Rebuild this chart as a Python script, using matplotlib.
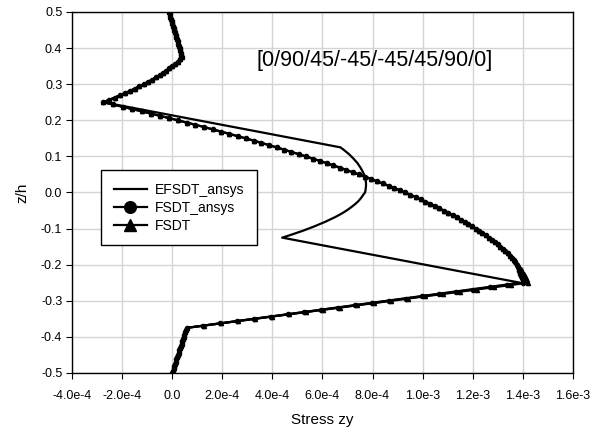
import matplotlib
matplotlib.use("Agg")
import matplotlib.pyplot as plt

plt.rcParams['font.family'] = ['Liberation Sans', 'DejaVu Sans']

# z/h sample positions (bottom to top), 20 samples per ply
z = [-0.5, -0.49375, -0.4875, -0.48125, -0.475, -0.46875, -0.4625, -0.45625, -0.45, -0.44375,
     -0.4375, -0.43125, -0.425, -0.41875, -0.4125, -0.40625, -0.4, -0.39375, -0.3875, -0.38125,
     -0.375, -0.36875, -0.3625, -0.35625, -0.35, -0.34375, -0.3375, -0.33125, -0.325, -0.31875,
     -0.3125, -0.30625, -0.3, -0.29375, -0.2875, -0.28125, -0.275, -0.26875, -0.2625, -0.25625,
     -0.25, -0.24375, -0.2375, -0.23125, -0.225, -0.21875, -0.2125, -0.20625, -0.2, -0.19375,
     -0.1875, -0.18125, -0.175, -0.16875, -0.1625, -0.15625, -0.15, -0.14375, -0.1375, -0.13125,
     -0.125, -0.11875, -0.1125, -0.10625, -0.1, -0.09375, -0.0875, -0.08125, -0.075, -0.06875,
     -0.0625, -0.05625, -0.05, -0.04375, -0.0375, -0.03125, -0.025, -0.01875, -0.0125, -0.00625,
     0.0, 0.00625, 0.0125, 0.01875, 0.025, 0.03125, 0.0375, 0.04375, 0.05, 0.05625,
     0.0625, 0.06875, 0.075, 0.08125, 0.0875, 0.09375, 0.1, 0.10625, 0.1125, 0.11875,
     0.125, 0.13125, 0.1375, 0.14375, 0.15, 0.15625, 0.1625, 0.16875, 0.175, 0.18125,
     0.1875, 0.19375, 0.2, 0.20625, 0.2125, 0.21875, 0.225, 0.23125, 0.2375, 0.24375,
     0.25, 0.25625, 0.2625, 0.26875, 0.275, 0.28125, 0.2875, 0.29375, 0.3, 0.30625,
     0.3125, 0.31875, 0.325, 0.33125, 0.3375, 0.34375, 0.35, 0.35625, 0.3625, 0.36875,
     0.375, 0.38125, 0.3875, 0.39375, 0.4, 0.40625, 0.4125, 0.41875, 0.425, 0.43125,
     0.4375, 0.44375, 0.45, 0.45625, 0.4625, 0.46875, 0.475, 0.48125, 0.4875, 0.49375, 0.5]

# stress zy values, in units of 1e-4
efsdt_ansys = [
    0.00, 0.03, 0.06, 0.09, 0.12, 0.15, 0.17, 0.20, 0.23, 0.26,
    0.29, 0.32, 0.35, 0.38, 0.41, 0.44, 0.46, 0.49, 0.52, 0.55,
    0.58, 1.25, 1.91, 2.58, 3.24, 3.91, 4.58, 5.24, 5.91, 6.57,
    7.24, 7.91, 8.57, 9.24, 9.90, 10.57, 11.24, 11.90, 12.57, 13.23,
    13.90, 13.42, 12.95, 12.47, 12.00, 11.52, 11.04, 10.57, 10.09, 9.62,
    9.14, 8.67, 8.19, 7.71, 7.24, 6.76, 6.29, 5.81, 5.34, 4.86,
    4.39, 4.68, 4.95, 5.21, 5.45, 5.68, 5.90, 6.11, 6.30, 6.49,
    6.66, 6.82, 6.96, 7.09, 7.21, 7.32, 7.42, 7.50, 7.57, 7.63,
    7.70, 7.72, 7.73, 7.74, 7.74, 7.73, 7.71, 7.69, 7.66, 7.62,
    7.57, 7.52, 7.46, 7.40, 7.32, 7.24, 7.15, 7.06, 6.95, 6.84,
    6.72, 6.25, 5.77, 5.30, 4.83, 4.35, 3.88, 3.41, 2.93, 2.46,
    1.98, 1.51, 1.04, 0.56, 0.09, -0.38, -0.86, -1.33, -1.80, -2.28,
    -2.75, -2.52, -2.30, -2.09, -1.88, -1.68, -1.49, -1.31, -1.13, -0.96,
    -0.80, -0.65, -0.50, -0.36, -0.23, -0.11, 0.01, 0.12, 0.22, 0.31,
    0.40, 0.37, 0.35, 0.32, 0.30, 0.27, 0.24, 0.22, 0.19, 0.17,
    0.14, 0.11, 0.09, 0.06, 0.04, 0.01, -0.02, -0.04, -0.07, -0.09, -0.12]

fsdt_ansys = [
    0.00, 0.03, 0.06, 0.09, 0.12, 0.15, 0.17, 0.20, 0.23, 0.26,
    0.29, 0.32, 0.35, 0.38, 0.41, 0.44, 0.46, 0.49, 0.52, 0.55,
    0.58, 1.25, 1.92, 2.60, 3.27, 3.94, 4.61, 5.28, 5.96, 6.63,
    7.30, 7.97, 8.64, 9.32, 9.99, 10.66, 11.33, 12.00, 12.68, 13.35,
    14.02, 14.00, 13.97, 13.94, 13.90, 13.86, 13.84, 13.80, 13.75, 13.70,
    13.65, 13.57, 13.48, 13.39, 13.30, 13.20, 13.10, 12.99, 12.88, 12.76,
    12.64, 12.52, 12.39, 12.26, 12.12, 11.98, 11.83, 11.68, 11.52, 11.36,
    11.20, 11.03, 10.85, 10.67, 10.49, 10.30, 10.11, 9.92, 9.72, 9.51,
    9.30, 9.09, 8.87, 8.64, 8.42, 8.19, 7.95, 7.71, 7.46, 7.21,
    6.96, 6.70, 6.44, 6.17, 5.90, 5.62, 5.34, 5.05, 4.76, 4.47,
    4.17, 3.87, 3.56, 3.25, 2.93, 2.61, 2.28, 1.95, 1.62, 1.28,
    0.93, 0.59, 0.23, -0.13, -0.49, -0.85, -1.22, -1.60, -1.98, -2.36,
    -2.75, -2.52, -2.30, -2.09, -1.88, -1.68, -1.49, -1.31, -1.13, -0.96,
    -0.80, -0.65, -0.50, -0.36, -0.23, -0.11, 0.01, 0.12, 0.22, 0.31,
    0.40, 0.37, 0.35, 0.32, 0.30, 0.27, 0.24, 0.22, 0.19, 0.17,
    0.14, 0.11, 0.09, 0.06, 0.04, 0.01, -0.02, -0.04, -0.07, -0.09, -0.12]

fsdt = [
    0.00, 0.03, 0.06, 0.09, 0.12, 0.15, 0.17, 0.20, 0.23, 0.26,
    0.29, 0.32, 0.35, 0.38, 0.41, 0.44, 0.46, 0.49, 0.52, 0.55,
    0.58, 1.26, 1.94, 2.62, 3.30, 3.99, 4.67, 5.35, 6.03, 6.71,
    7.39, 8.07, 8.75, 9.43, 10.11, 10.80, 11.48, 12.16, 12.84, 13.52,
    14.20, 14.16, 14.13, 14.08, 14.03, 13.98, 13.92, 13.86, 13.79, 13.72,
    13.65, 13.57, 13.48, 13.39, 13.30, 13.20, 13.10, 12.99, 12.88, 12.76,
    12.64, 12.52, 12.39, 12.26, 12.12, 11.98, 11.83, 11.68, 11.52, 11.36,
    11.20, 11.03, 10.85, 10.67, 10.49, 10.30, 10.11, 9.92, 9.72, 9.51,
    9.30, 9.09, 8.87, 8.64, 8.42, 8.19, 7.95, 7.71, 7.46, 7.21,
    6.96, 6.70, 6.44, 6.17, 5.90, 5.62, 5.34, 5.05, 4.76, 4.47,
    4.17, 3.87, 3.56, 3.25, 2.93, 2.61, 2.28, 1.95, 1.62, 1.28,
    0.93, 0.59, 0.23, -0.13, -0.49, -0.85, -1.22, -1.60, -1.98, -2.36,
    -2.75, -2.52, -2.30, -2.09, -1.88, -1.68, -1.49, -1.31, -1.13, -0.96,
    -0.80, -0.65, -0.50, -0.36, -0.23, -0.11, 0.01, 0.12, 0.22, 0.31,
    0.40, 0.37, 0.35, 0.32, 0.30, 0.27, 0.24, 0.22, 0.19, 0.17,
    0.14, 0.11, 0.09, 0.06, 0.04, 0.01, -0.02, -0.04, -0.07, -0.09, -0.12]

scale = 1e-4
xticks = [-4e-4, -2e-4, 0.0, 2e-4, 4e-4, 6e-4, 8e-4, 1e-3, 1.2e-3, 1.4e-3, 1.6e-3]
xticklabels = ["-4.0e-4", "-2.0e-4", "0.0", "2.0e-4", "4.0e-4", "6.0e-4", "8.0e-4",
               "1.0e-3", "1.2e-3", "1.4e-3", "1.6e-3"]
yticks = [-0.5, -0.4, -0.3, -0.2, -0.1, 0.0, 0.1, 0.2, 0.3, 0.4, 0.5]
yticklabels = ["-0.5", "-0.4", "-0.3", "-0.2", "-0.1", "0.0", "0.1", "0.2", "0.3", "0.4", "0.5"]

fig = plt.figure(figsize=(5.98, 4.36), dpi=100)
ax = fig.add_axes([0.1204, 0.1445, 0.8376, 0.828])

ax.plot([v * scale for v in efsdt_ansys], z, color='black', lw=1.6, label='EFSDT_ansys', zorder=3)
ax.plot([v * scale for v in fsdt_ansys], z, color='black', lw=1.6, marker='o', ms=3.0,
        label='FSDT_ansys', zorder=4)
ax.plot([v * scale for v in fsdt], z, color='black', lw=1.6, marker='^', ms=3.0,
        label='FSDT', zorder=5)

ax.set_xlim(-4e-4, 1.6e-3)
ax.set_ylim(-0.5, 0.5)
ax.set_xticks(xticks)
ax.set_xticklabels(xticklabels, fontsize=9)
ax.set_yticks(yticks)
ax.set_yticklabels(yticklabels, fontsize=9)
ax.tick_params(axis='both', direction='out', length=4, width=0.8, pad=3, color='black')
ax.tick_params(axis='x', pad=8)
ax.grid(True, color='#d4d4d4', lw=1.0)
ax.set_axisbelow(True)
for s in ax.spines.values():
    s.set_color('black')
    s.set_linewidth(1.0)

ax.set_xlabel('Stress zy', fontsize=11, labelpad=8)
ax.set_ylabel('z/h', fontsize=11, labelpad=8)

ax.text(3.36e-4, 0.367, '[0/90/45/-45/-45/45/90/0]', fontsize=15.5, ha='left', va='center')

leg = ax.legend(loc='upper left', bbox_to_anchor=(0.058, 0.562), fontsize=10,
                markerscale=2.8, handlelength=2.4, handletextpad=0.6,
                borderpad=0.9, labelspacing=0.3, fancybox=False, framealpha=1,
                edgecolor='black', borderaxespad=0)
leg.get_frame().set_linewidth(1.0)

fig.savefig('out.png', dpi=100)
